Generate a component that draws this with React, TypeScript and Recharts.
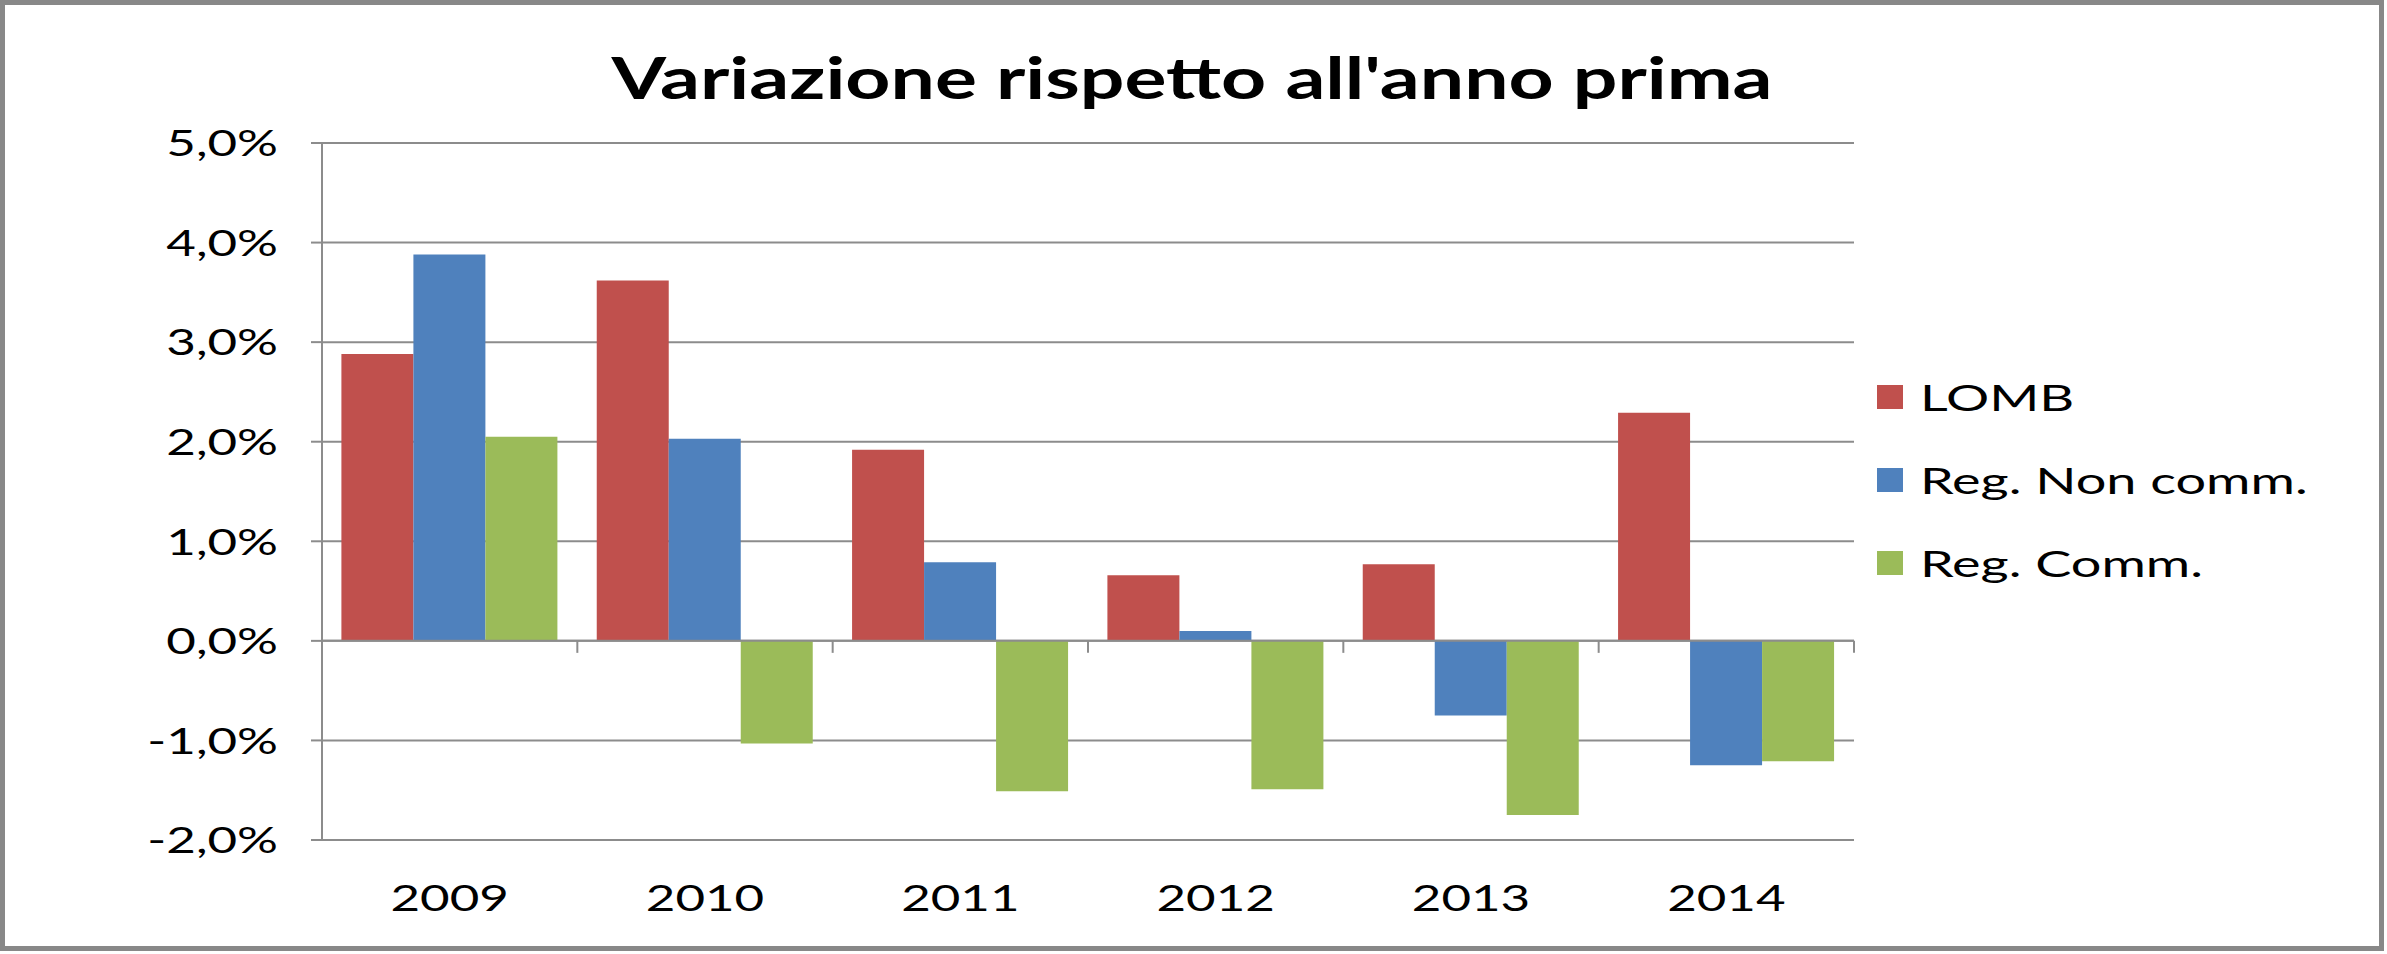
import React from 'react';
import { BarChart, Bar, CartesianGrid, XAxis, YAxis, Legend, ReferenceLine } from 'recharts';

const years = ['2009', '2010', '2011', '2012', '2013', '2014'];
const lomb = [2.88, 3.62, 1.92, 0.66, 0.77, 2.29];
const regNonComm = [3.88, 2.03, 0.79, 0.1, -0.75, -1.25];
const regComm = [2.05, -1.03, -1.51, -1.49, -1.75, -1.21];
const yTicks = [-2, -1, 0, 1, 2, 3, 4, 5];
const seriesNames = ['LOMB', 'Reg. Non comm.', 'Reg. Comm.'];

const data = years.map((year, i) => ({
  year,
  lomb: lomb[i],
  nonComm: regNonComm[i],
  comm: regComm[i],
}));

const FONT = 'Lato, Carlito, sans-serif';
const STRETCH = 1.38; // the source image is stretched horizontally
const GRID = '#8c8c8c';

const fmt = (v: number) => `${v.toFixed(1).replace('.', ',')}%`;

function YTick({ x, y, payload }: any) {
  return (
    <g transform={`translate(${x},${y})`}>
      <text transform={`scale(${STRETCH},1)`} textAnchor="end" dy="0.36em" fontFamily={FONT} fontSize={37} fill="#000">
        {fmt(payload.value)}
      </text>
    </g>
  );
}

function XTick({ x, y, payload }: any) {
  return (
    <g transform={`translate(${x},${y})`}>
      <text transform={`scale(${STRETCH},1)`} textAnchor="middle" dy="0.36em" fontFamily={FONT} fontSize={37} fill="#000">
        {payload.value}
      </text>
    </g>
  );
}

// zero line with the category tick marks hanging below it
function ZeroAxis(props: any) {
  const { x1, x2, y1 } = props;
  const step = (x2 - x1) / years.length;
  return (
    <g>
      <line x1={x1} x2={x2} y1={y1} y2={y1} stroke={GRID} strokeWidth={2} />
      {years.map((_, i) => (
        <line key={i} x1={x1 + step * (i + 1)} x2={x1 + step * (i + 1)} y1={y1} y2={y1 + 12} stroke={GRID} strokeWidth={2} />
      ))}
    </g>
  );
}

function LegendContent({ payload }: any) {
  return (
    <div>
      {(payload || []).map((p: any) => (
        <div key={p.value} style={{ height: 83, display: 'flex', alignItems: 'center' }}>
          <span style={{ width: 26, height: 24, background: p.color, display: 'inline-block', marginRight: 17 }} />
          <span
            style={{
              fontFamily: FONT,
              fontSize: 36,
              color: '#000',
              display: 'inline-block',
              transform: 'scaleX(1.5)',
              transformOrigin: 'left center',
              whiteSpace: 'nowrap',
            }}
          >
            {p.value}
          </span>
        </div>
      ))}
    </div>
  );
}

export default function App() {
  return (
    <div style={{ position: 'absolute', left: 0, top: 0, width: 2387, height: 954, background: '#fff' }}>
      <BarChart
        width={2387}
        height={954}
        data={data}
        margin={{ top: 143, right: 533, bottom: 0, left: 0 }}
        barCategoryGap="7.6%"
        barGap={0}
      >
        <CartesianGrid vertical={false} stroke={GRID} strokeWidth={2} />
        <XAxis
          dataKey="year"
          axisLine={false}
          tickLine={false}
          tickSize={0}
          tickMargin={58}
          height={114}
          tick={<XTick />}
        />
        <YAxis
          domain={[-2, 5]}
          ticks={yTicks}
          interval={0}
          width={322}
          tickSize={11}
          tickMargin={33}
          axisLine={{ stroke: GRID, strokeWidth: 2 }}
          tickLine={{ stroke: GRID, strokeWidth: 2 }}
          tick={<YTick />}
        />
        <Bar dataKey="lomb" name={seriesNames[0]} fill="#C0504D" isAnimationActive={false} />
        <Bar dataKey="nonComm" name={seriesNames[1]} fill="#4F81BD" isAnimationActive={false} />
        <Bar dataKey="comm" name={seriesNames[2]} fill="#9BBB59" isAnimationActive={false} />
        <ReferenceLine y={0} shape={<ZeroAxis />} />
        <Legend
          layout="vertical"
          align="center"
          verticalAlign="middle"
          itemSorter={(item: any) => seriesNames.indexOf(item.value)}
          content={<LegendContent />}
          wrapperStyle={{ left: 1877, top: 355, width: 480 }}
        />
      </BarChart>

      <svg width={2387} height={200} style={{ position: 'absolute', left: 0, top: 0, pointerEvents: 'none' }}>
        <text
          transform={`translate(1192,99) scale(${STRETCH},1)`}
          textAnchor="middle"
          fontFamily={FONT}
          fontWeight={700}
          fontSize={57}
          fill="#000"
        >
          Variazione rispetto all'anno prima
        </text>
      </svg>

      <div
        style={{
          position: 'absolute',
          left: 0,
          top: 0,
          width: 2384,
          height: 951,
          border: '5px solid #888',
          boxSizing: 'border-box',
          pointerEvents: 'none',
        }}
      />
    </div>
  );
}
